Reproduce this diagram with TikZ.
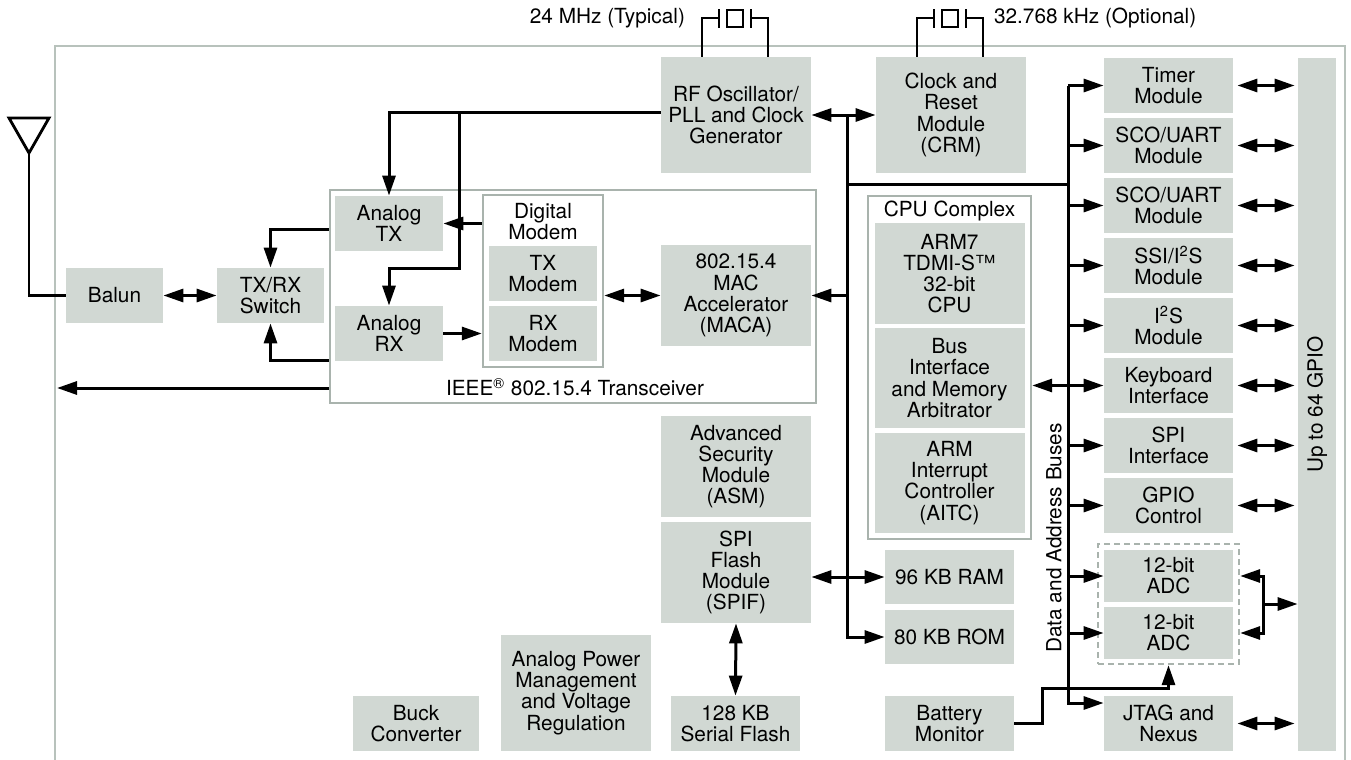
\documentclass[tikz,border=0pt]{standalone}
\usepackage{fontspec}
\setmainfont{TeX Gyre Heros}
\usetikzlibrary{arrows.meta}
\definecolor{boxgray}{HTML}{D1D8D3}
\definecolor{linegray}{HTML}{A9B3AD}
\definecolor{framegray}{HTML}{B8C2BC}
\begin{document}
\begin{tikzpicture}[x=0.5pt,y=-0.5pt,
    font=\fontsize{10.4}{10.6}\selectfont,
    blk/.style 2 args={fill=boxgray, align=center, inner sep=0pt, minimum width=#1*0.5pt, minimum height=#2*0.5pt},
    grp/.style 2 args={draw=linegray, line width=1.2pt, fill=white, inner sep=0pt, minimum width=#1*0.5pt, minimum height=#2*0.5pt},
    wire/.style={line width=1.5pt},
    arr/.style={line width=1.5pt, -{Triangle[length=10pt,width=6.5pt]}},
    dbl/.style={line width=1.5pt, {Triangle[length=10pt,width=6.5pt]}-{Triangle[length=10pt,width=6.5pt]}}]
        \useasboundingbox (0,0) rectangle (1351,760);
        % outer frame
        \draw[framegray, line width=1.2pt] (55,760) -- (55,46) -- (1345,46) -- (1345,760);
        % groups
        \node[grp={486}{213}] (xcv) at (573,296.5) {};
        \node[grp={120}{172}] (dmod) at (543,281) {};
        \node[grp={163}{343}] (cpu) at (949.5,367.5) {};
        \node[grp={141}{120}, fill=none, dash pattern=on 3pt off 2pt] (adcgrp) at (1168.5,604) {};
        \node (xcvlbl) at (575,387) {IEEE\textsuperscript{\textregistered} 802.15.4 Transceiver};
        \node[align=center] (dmodlbl) at (543,221.5) {Digital\\Modem};
        \node (cpulbl) at (949.5,211) {CPU Complex};
        % blocks
        \node[blk={97}{55}] (balun) at (114.5,295.5) {Balun};
        \node[blk={107}{55}] (trx) at (270.5,295.5) {TX/RX\\Switch};
        \node[blk={108}{55}] (atx) at (389,223.5) {Analog\\TX};
        \node[blk={108}{55}] (arx) at (389,333.5) {Analog\\RX};
        \node[blk={108}{55}] (txmod) at (543,273.5) {TX\\Modem};
        \node[blk={108}{55}] (rxmod) at (543,333.5) {RX\\Modem};
        \node[blk={150}{101}] (mac) at (736,295.5) {802.15.4\\MAC\\Accelerator\\(MACA)};
        \node[blk={150}{116}] (rfosc) at (736,115) {RF Oscillator/\\PLL and Clock\\Generator};
        \node[blk={150}{116}] (crm) at (951,115) {Clock and\\Reset\\Module\\(CRM)};
        \node[blk={150}{101}] (arm) at (949.5,273.5) {ARM7\\TDMI-S\texttrademark\\32-bit\\CPU};
        \node[blk={150}{100}] (busif) at (949.5,378) {Bus\\Interface\\and Memory\\Arbitrator};
        \node[blk={150}{100}] (aitc) at (949.5,483) {ARM\\Interrupt\\Controller\\(AITC)};
        \node[blk={150}{101}] (asm) at (736,466.5) {Advanced\\Security\\Module\\(ASM)};
        \node[blk={150}{101}] (spif) at (736,572.5) {SPI\\Flash\\Module\\(SPIF)};
        \node[blk={129}{55}] (sflash) at (735.5,723.5) {128 KB\\Serial Flash};
        \node[blk={150}{116}] (apm) at (576,693) {Analog Power\\Management\\and Voltage\\Regulation};
        \node[blk={126}{55}] (buck) at (416,723.5) {Buck\\Converter};
        \node[blk={129}{54}] (ram) at (949.5,577) {96 KB RAM};
        \node[blk={129}{54}] (rom) at (949.5,637) {80 KB ROM};
        \node[blk={129}{55}] (batt) at (949.5,723.5) {Battery\\Monitor};
        \node[blk={129}{55}] (timer) at (1168.5,85.5) {Timer\\Module};
        \node[blk={129}{55}] (scoa) at (1168.5,145.5) {SCO/UART\\Module};
        \node[blk={129}{55}] (scob) at (1168.5,205.5) {SCO/UART\\Module};
        \node[blk={129}{55}] (ssi) at (1168.5,265.5) {SSI/I\textsuperscript{2}S\\Module};
        \node[blk={129}{55}] (itwos) at (1168.5,325.5) {I\textsuperscript{2}S\\Module};
        \node[blk={129}{55}] (kbd) at (1168.5,385.5) {Keyboard\\Interface};
        \node[blk={129}{55}] (spi) at (1168.5,445.5) {SPI\\Interface};
        \node[blk={129}{55}] (gpioc) at (1168.5,505.5) {GPIO\\Control};
        \node[blk={129}{52}] (adca) at (1168.5,576) {12-bit\\ADC};
        \node[blk={129}{52}] (adcb) at (1168.5,633) {12-bit\\ADC};
        \node[blk={129}{55}] (jtag) at (1168.5,723.5) {JTAG and\\Nexus};
        \node[blk={38}{693}] (gpio) at (1317,404.5) {};
        \node[rotate=90] (gpiolbl) at (gpio) {Up to 64 GPIO};
        \node[rotate=90] (buslbl) at (1054,538) {Data and Address Buses};
        % crystals
        \node[anchor=east] (xtalalbl) at (692,18) {24 MHz (Typical)};
        \node[anchor=west] (xtalblbl) at (987,18) {32.768 kHz (Optional)};
        \foreach \cx/\src in {702/rfosc,917/crm} {
            \draw[line width=1.4pt] (\cx,0 |- \src.north) -- (\cx,18) -- (\cx+17,18);
            \draw[line width=1.4pt] (\cx+17,9) -- (\cx+17,28);
            \draw[line width=1.3pt] (\cx+25,10) rectangle (\cx+41,27);
            \draw[line width=1.4pt] (\cx+49,9) -- (\cx+49,28);
            \draw[line width=1.4pt] (\cx+49,18) -- (\cx+66,18) -- (\cx+66,0 |- \src.north);
        }
        % antenna
        \coordinate (ant) at (29,153);
        \draw[line width=1.4pt] (9,118) -- (49,118) -- (ant) -- cycle;
        \draw[line width=1.4pt] (ant) |- (balun.west);
        % radio
        \draw[dbl] (balun.east) -- (trx.west);
        \draw[arr] (xcv.west |- 0,229) -| (trx.north);
        \draw[arr] (xcv.west |- 0,360) -| (trx.south);
        \coordinate (rfend) at (57,388);
        \draw[arr] (xcv.west |- rfend) -- (rfend);
        \coordinate (brk) at (459,112);
        \draw[arr] (rfosc.west |- brk) -| (atx.north);
        \draw[arr] (brk) -- (459,268) -| (arx.north);
        \draw[arr] (dmod.west |- atx) -- (atx.east);
        \draw[arr] (arx.east) -- (dmod.west |- arx);
        \draw[dbl] (dmod.east |- mac) -- (mac.west);
        % system bus
        \coordinate (jn) at (847,115);
        \draw[dbl] (rfosc.east) -- (crm.west);
        \draw[arr] (jn) |- (rom.west);
        \draw[arr] (jn |- mac) -- (mac.east);
        \draw[arr] (jn |- ram) -- (ram.west);
        \draw[arr] (jn |- ram) -- (spif.east |- ram);
        \draw[dbl] (spif.south) -- (sflash.north);
        \coordinate (bus) at (1068,85.5);
        \coordinate (busend) at (1068,703);
        \draw[wire] (jn |- 0,184) -- (bus |- 0,184);
        \draw[arr] (bus) -- (busend) -- (jtag.west |- busend);
        \foreach \m in {timer,scoa,scob,ssi,itwos,spi,gpioc,adca,adcb}
            \draw[arr] (bus |- \m) -- (\m.west);
        \draw[dbl] (cpu.east |- kbd) -- (kbd.west);
        \foreach \m in {timer,scoa,scob,ssi,itwos,kbd,spi,gpioc,jtag}
            \draw[dbl, shorten <=2pt, shorten >=1.5pt] (\m.east) -- (gpio.west |- \m);
        % adc
        \coordinate (adcj) at (1263,604);
        \draw[dbl] (adcgrp.east |- adca) -- (adcj |- adca) -- (adcj |- adcb) -- (adcgrp.east |- adcb);
        \draw[arr] (adcj) -- (gpio.west |- adcj);
        \coordinate (bb) at (1042,688);
        \draw[arr] (batt.east) -| (bb) -| (adcgrp.south);
\end{tikzpicture}
\end{document}
